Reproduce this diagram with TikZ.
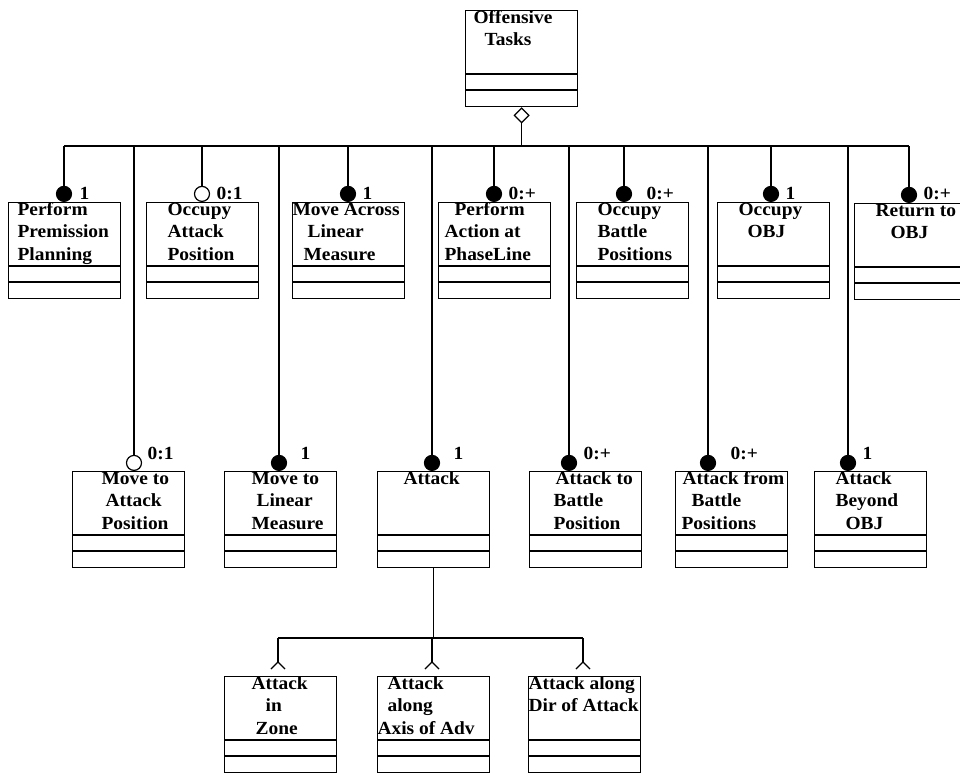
\documentclass[tikz,border=0pt]{standalone}
\usepackage{fontspec}
\setmainfont{Liberation Serif}[FakeStretch=1.05]
\usetikzlibrary{shapes.geometric}
\tikzset{
  ubox/.style={draw, rectangle, minimum width=112pt, minimum height=96pt, inner sep=0pt, anchor=north west},
  txt/.style={anchor=base west, inner sep=0pt, font=\fontsize{18.5}{22}\selectfont\bfseries},
  mult/.style={anchor=base west, inner sep=0pt, font=\fontsize{18.5}{22}\selectfont\bfseries},
  fcirc/.style={circle, draw, fill=black, minimum size=15pt, inner sep=0pt, anchor=south},
  ocirc/.style={circle, draw, fill=white, minimum size=15pt, inner sep=0pt, anchor=south},
  agg/.style={diamond, draw, fill=white, minimum width=15pt, minimum height=15pt, inner sep=0pt, aspect=1, anchor=north},
}
\newcommand{\umlbox}[3]{%
  \node[ubox] (#1) at (#2,#3) {};
  \draw ([yshift=-64pt]#1.north west) -- ([yshift=-64pt]#1.north east);
  \draw ([yshift=-80pt]#1.north west) -- ([yshift=-80pt]#1.north east);
}
\begin{document}
\begin{tikzpicture}[x=1pt, y=-1pt, line width=1.2pt]
\useasboundingbox (0,0) rectangle (960,772);
\clip (0,0) rectangle (960,772);

% boxes
\umlbox{top}{465}{10}
\umlbox{ppp}{8}{202}
\umlbox{oap}{146}{202}
\umlbox{mal}{292}{202}
\umlbox{pap}{438}{202}
\umlbox{obp}{576}{202}
\umlbox{oo}{717}{202}
\umlbox{ro}{854}{203}
\umlbox{map}{72}{471}
\umlbox{mlm}{224}{471}
\umlbox{att}{377}{471}
\umlbox{abp}{529}{471}
\umlbox{afb}{675}{471}
\umlbox{abo}{814}{471}
\umlbox{aiz}{224}{676}
\umlbox{aax}{377}{676}
\umlbox{adr}{528}{676}

% texts
\node[txt] (ta1) at (473,23.5) {Offensive};
\node[txt] (ta2) at (484,45.8) {Tasks};

\node[txt] (t1a) at (17,215.5) {Perform};
\node[txt] (t1b) at (17,237.8) {Premission};
\node[txt] (t1c) at (17,260.1) {Planning};
\node[txt] (t2a) at (167,215.5) {Occupy};
\node[txt] (t2b) at (167,237.8) {Attack};
\node[txt] (t2c) at (167,260.1) {Position};
\node[txt] (t3a) at (292,215.5) {Move Across};
\node[txt] (t3b) at (307,237.8) {Linear};
\node[txt] (t3c) at (303,260.1) {Measure};
\node[txt] (t4a) at (454,215.5) {Perform};
\node[txt] (t4b) at (444,237.8) {Action at};
\node[txt] (t4c) at (444,260.1) {PhaseLine};
\node[txt] (t5a) at (597,215.5) {Occupy};
\node[txt] (t5b) at (597,237.8) {Battle};
\node[txt] (t5c) at (597,260.1) {Positions};
\node[txt] (t6a) at (738,215.5) {Occupy};
\node[txt] (t6b) at (747,237.8) {OBJ};
\node[txt] (t7a) at (875,216.5) {Return to};
\node[txt] (t7b) at (890,238.8) {OBJ};

\node[txt] (u1a) at (101,484.5) {Move to};
\node[txt] (u1b) at (105,506.8) {Attack};
\node[txt] (u1c) at (101,529.1) {Position};
\node[txt] (u2a) at (251,484.5) {Move to};
\node[txt] (u2b) at (256,506.8) {Linear};
\node[txt] (u2c) at (251,529.1) {Measure};
\node[txt] (u3a) at (403,484.5) {Attack};
\node[txt] (u4a) at (555,484.5) {Attack to};
\node[txt] (u4b) at (553,506.8) {Battle};
\node[txt] (u4c) at (553,529.1) {Position};
\node[txt] (u5a) at (682,484.5) {Attack from};
\node[txt] (u5b) at (691,506.8) {Battle};
\node[txt] (u5c) at (681,529.1) {Positions};
\node[txt] (u6a) at (835,484.5) {Attack};
\node[txt] (u6b) at (835,506.8) {Beyond};
\node[txt] (u6c) at (845,529.1) {OBJ};

\node[txt] (v1a) at (251,689.5) {Attack};
\node[txt] (v1b) at (265,711.8) {in};
\node[txt] (v1c) at (255,734.1) {Zone};
\node[txt] (v2a) at (387,689.5) {Attack};
\node[txt] (v2b) at (387,711.8) {along};
\node[txt] (v2c) at (377,734.1) {Axis of Adv};
\node[txt] (v3a) at (528,689.5) {Attack along};
\node[txt] (v3b) at (528,711.8) {Dir of Attack};

% aggregation
\node[agg] (dia) at (top.south) {};
\coordinate (barL) at (64,146);
\coordinate (barR) at (909,146);
\draw (barL) -- (barR);
\draw (dia.south) -- (dia.south |- barL);

% end circles, row 1
\node[fcirc] (c1) at (64,202) {};
\node[ocirc] (c2) at (202,202) {};
\node[fcirc] (c3) at (348,202) {};
\node[fcirc] (c4) at (494,202) {};
\node[fcirc] (c5) at (624,202) {};
\node[fcirc] (c6) at (771,202) {};
\node[fcirc] (c7) at (909,203) {};
% row 2
\node[ocirc] (d1) at (134,471) {};
\node[fcirc] (d2) at (279,471) {};
\node[fcirc] (d3) at (432,471) {};
\node[fcirc] (d4) at (569,471) {};
\node[fcirc] (d5) at (708,471) {};
\node[fcirc] (d6) at (848,471) {};

\foreach \c in {c1,c2,c3,c4,c5,c6,c7,d1,d2,d3,d4,d5,d6}
  \draw (\c.north) -- (\c.north |- barL);

% multiplicities
\node[mult] (m1) at (79,199) {1};
\node[mult] (m2) at (216,199) {0:1};
\node[mult] (m3) at (362,199) {1};
\node[mult] (m4) at (508,199) {0:+};
\node[mult] (m5) at (646,199) {0:+};
\node[mult] (m6) at (785,199) {1};
\node[mult] (m7) at (923,199) {0:+};
\node[mult] (n1) at (147,459) {0:1};
\node[mult] (n2) at (300,459) {1};
\node[mult] (n3) at (453,459) {1};
\node[mult] (n4) at (583,459) {0:+};
\node[mult] (n5) at (730,459) {0:+};
\node[mult] (n6) at (862,459) {1};

% Attack specialisations
\coordinate (fL) at (278,638);
\coordinate (fR) at (583,638);
\draw (att.south) -- (att.south |- fL);
\draw (fL) -- (fR);
\foreach \x/\n in {278/p1,432/p2,583/p3}{
  \coordinate (\n) at (\x,662);
  \draw (\n |- fL) -- (\n);
  \draw (\n) -- ++(-7,7);
  \draw (\n) -- ++(7,7);
}
\end{tikzpicture}
\end{document}
